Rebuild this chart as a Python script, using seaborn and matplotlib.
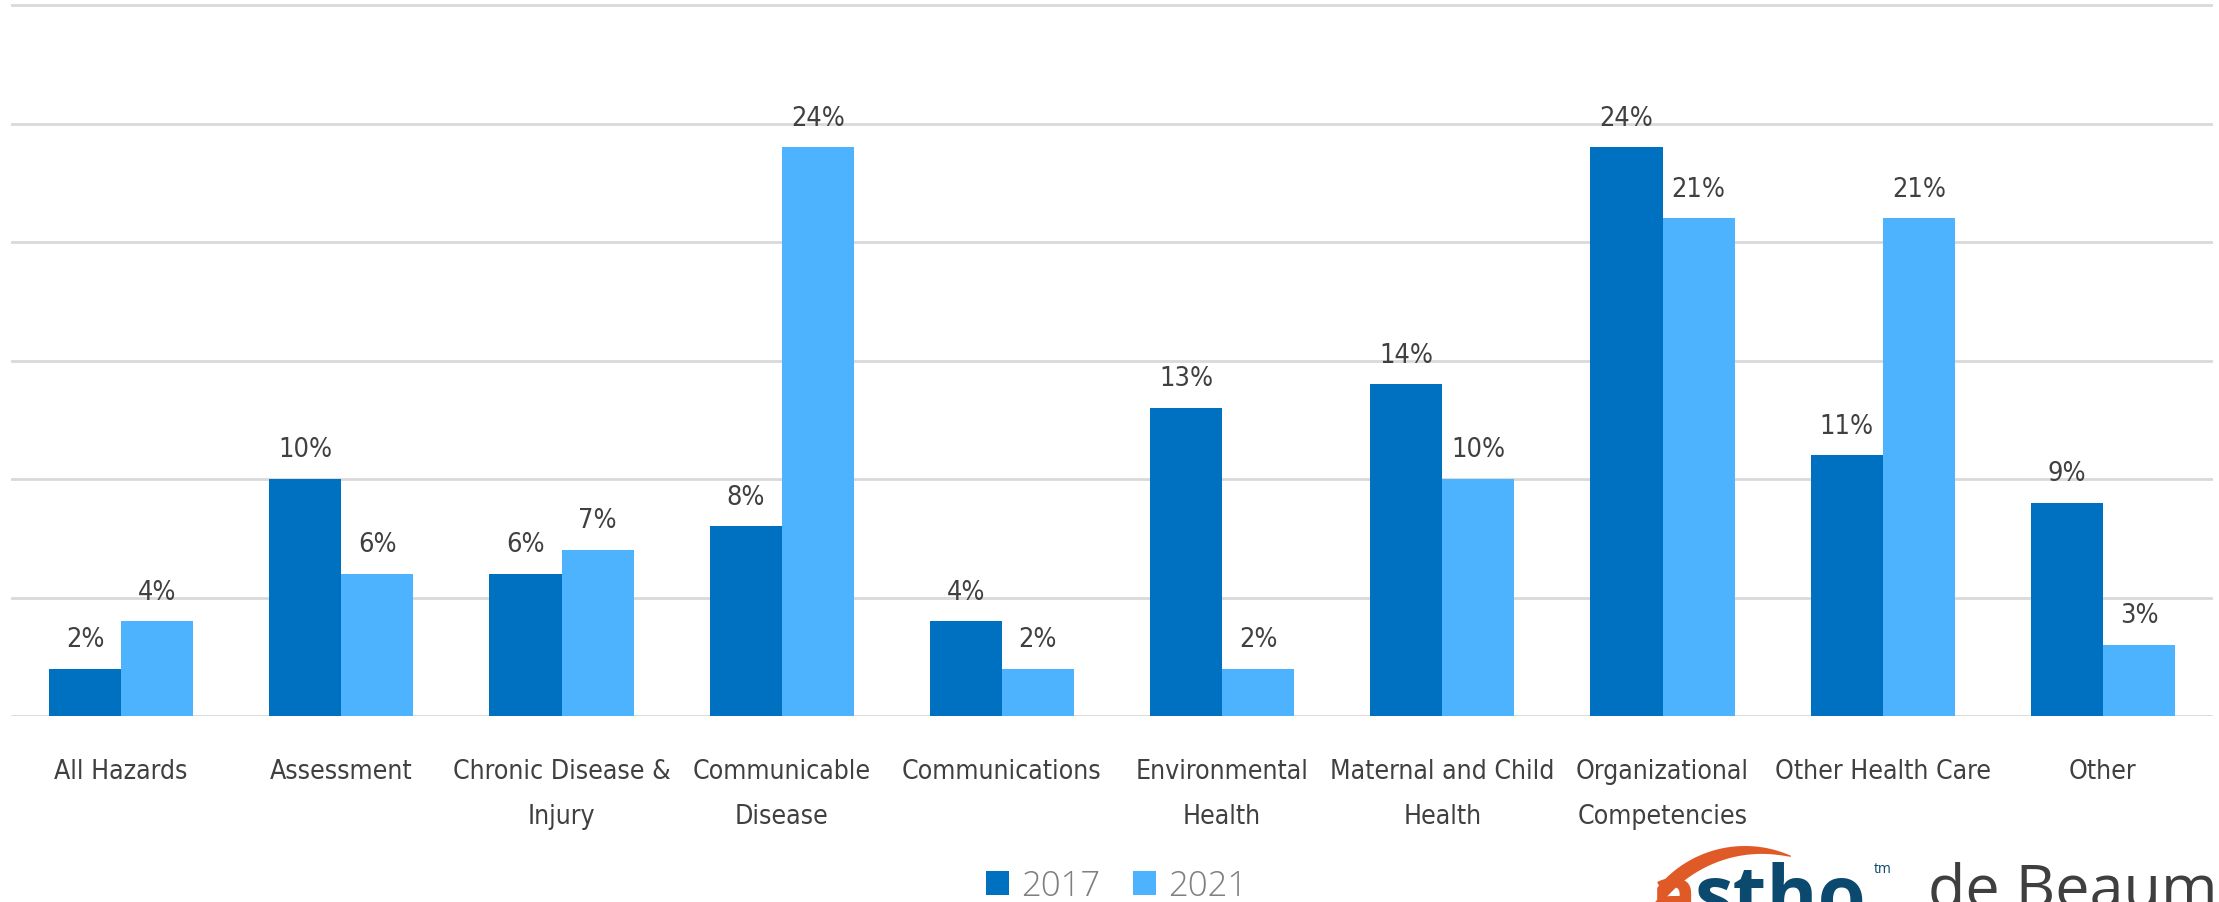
import numpy as np
import pandas as pd
import matplotlib
matplotlib.use("Agg")
import matplotlib.pyplot as plt
from matplotlib import font_manager
from matplotlib.font_manager import FontProperties
from matplotlib.patches import Polygon, Patch
import seaborn as sns

# Share of focus areas, 2017 vs 2021 (percent)
categories = [
    "All Hazards", "Assessment", "Chronic Disease &\nInjury", "Communicable\nDisease",
    "Communications", "Environmental\nHealth", "Maternal and Child\nHealth",
    "Organizational\nCompetencies", "Other Health Care", "Other",
]
values_2017 = [2, 10, 6, 8, 4, 13, 14, 24, 11, 9]
values_2021 = [4, 6, 7, 24, 2, 2, 10, 21, 21, 3]
years = ["2017", "2021"]
palette = {"2017": "#0070C0", "2021": "#4DB3FF"}

df = pd.DataFrame({
    "category": categories * 2,
    "year": ["2017"] * len(categories) + ["2021"] * len(categories),
    "value": values_2017 + values_2021,
})

sns.set_theme(style="white")
text_color = "#404040"


def pick_narrow_font():
    """Return the file of the narrowest regular-weight condensed sans installed."""
    best = None
    for f in font_manager.fontManager.ttflist:
        tag = (f.name + " " + str(f.stretch) + " " + f.fname).lower()
        if not any(k in tag for k in ("condensed", "narrow")):
            continue
        if f.style != "normal" or "mono" in tag:
            continue
        w = f.weight if isinstance(f.weight, int) else 400
        if w < 300 or w > 450:
            continue
        score = abs(w - 400) / 10
        if "semi" in tag:
            score += 20
        elif "extra" in tag or "ultra" in tag:
            score += 5
        if best is None or score < best[0]:
            best = (score, f.fname)
    return None if best is None else best[1]


narrow = pick_narrow_font()
if narrow:
    cat_font = FontProperties(fname=narrow, size=23)
    val_font = FontProperties(fname=narrow, size=22)
else:
    cat_font = FontProperties(family="Roboto", size=23)
    val_font = FontProperties(family="Roboto", size=22)

W, H = 2219, 903
fig = plt.figure(figsize=(W / 100, H / 100), dpi=100)
fig.patch.set_facecolor("white")
renderer = fig.canvas.get_renderer()


def fit_size(fp, sample, target_px):
    """Shrink a font so that `sample` is at most target_px wide."""
    probe = fig.text(0, 0, sample, fontproperties=fp)
    width = probe.get_window_extent(renderer).width
    probe.remove()
    if width > target_px:
        fp.set_size(fp.get_size() * target_px / width)


fit_size(cat_font, "Maternal and Child", 226)
fit_size(val_font, "24%", 54)


def fx(px):
    return px / W


def fy(py):
    return 1 - py / H


# axes: baseline at y=717 px, 30% gridline at y=6 px
ymax = 30.2
px_per_unit = (717 - 6) / 30
top_px = 717 - ymax * px_per_unit
ax = fig.add_axes([fx(11), fy(717), fx(2213) - fx(11), (717 - top_px) / H])

sns.barplot(data=df, x="category", y="value", hue="year", order=categories,
            hue_order=years, palette=palette, width=0.655, saturation=1,
            linewidth=0, gap=0, legend=False, ax=ax, errorbar=None)

ax.set_xlim(-0.5, len(categories) - 0.5)
ax.set_ylim(0, ymax)
ax.set_yticks(np.arange(0, 31, 5))
ax.yaxis.grid(True, color="#D9D9D9", linewidth=2)
ax.set_axisbelow(True)
ax.tick_params(axis="y", left=False, labelleft=False)
ax.tick_params(axis="x", bottom=False, pad=24, labelcolor=text_color)
for s in ax.spines.values():
    s.set_visible(False)
ax.set_xlabel("")
ax.set_ylabel("")
ax.set_xticks(range(len(categories)))
ax.set_xticklabels(categories, fontproperties=cat_font, linespacing=1.98)

for cont in ax.containers:
    ax.bar_label(cont, fmt="%d%%", padding=12, color=text_color,
                 fontproperties=val_font)

# legend below the categories
handles = [Patch(facecolor=palette[y], edgecolor="none", label=y) for y in years]
leg = fig.legend(handles=handles, loc="center", bbox_to_anchor=(fx(1117), fy(887)),
                 ncol=2, frameon=False, handlelength=0.66,
                 handleheight=0.66, handletextpad=0.35, columnspacing=0.95,
                 borderpad=0, prop={"family": ["Open Sans", "DejaVu Sans"],
                                    "size": 25, "weight": "light"})
for t in leg.get_texts():
    t.set_color("#7F7F7F")

# organisation marks in the lower right corner
t_param = np.linspace(0, 1, 60)
ang = np.deg2rad(np.linspace(141, 66, 60))
cx, cy, r = 1745, 960, 113
outer_x = cx + r * np.cos(ang)
outer_y = cy - r * np.sin(ang)
thick = 20 * (1 - t_param) ** 0.8 + 1
inner_x = outer_x[::-1]
inner_y = (outer_y + thick)[::-1]
arc_pts = np.column_stack([np.r_[outer_x, inner_x], np.r_[outer_y, inner_y]])
arc_pts = np.column_stack([fx(arc_pts[:, 0]), fy(arc_pts[:, 1])])
fig.add_artist(Polygon(arc_pts, closed=True, facecolor="#E05A28",
                       edgecolor="none", transform=fig.transFigure))

logo_font = ["Open Sans", "DejaVu Sans"]
fig.text(fx(1650), fy(922), "a", color="#E05A28", fontsize=56,
         fontweight="bold", family=logo_font, va="baseline", ha="left")
fig.text(fx(1695), fy(922), "stho", color="#0B4A6E", fontsize=56,
         fontweight="bold", family=logo_font, va="baseline", ha="left")
fig.text(fx(1874), fy(862), "tm", color="#0B4A6E", fontsize=10,
         family=logo_font, va="top", ha="left")
fig.text(fx(1928), fy(907), "de Beaumont", color="#3F3F3F", fontsize=44,
         family=logo_font, va="baseline", ha="left")

fig.savefig("out.png", dpi=100, facecolor="white")
